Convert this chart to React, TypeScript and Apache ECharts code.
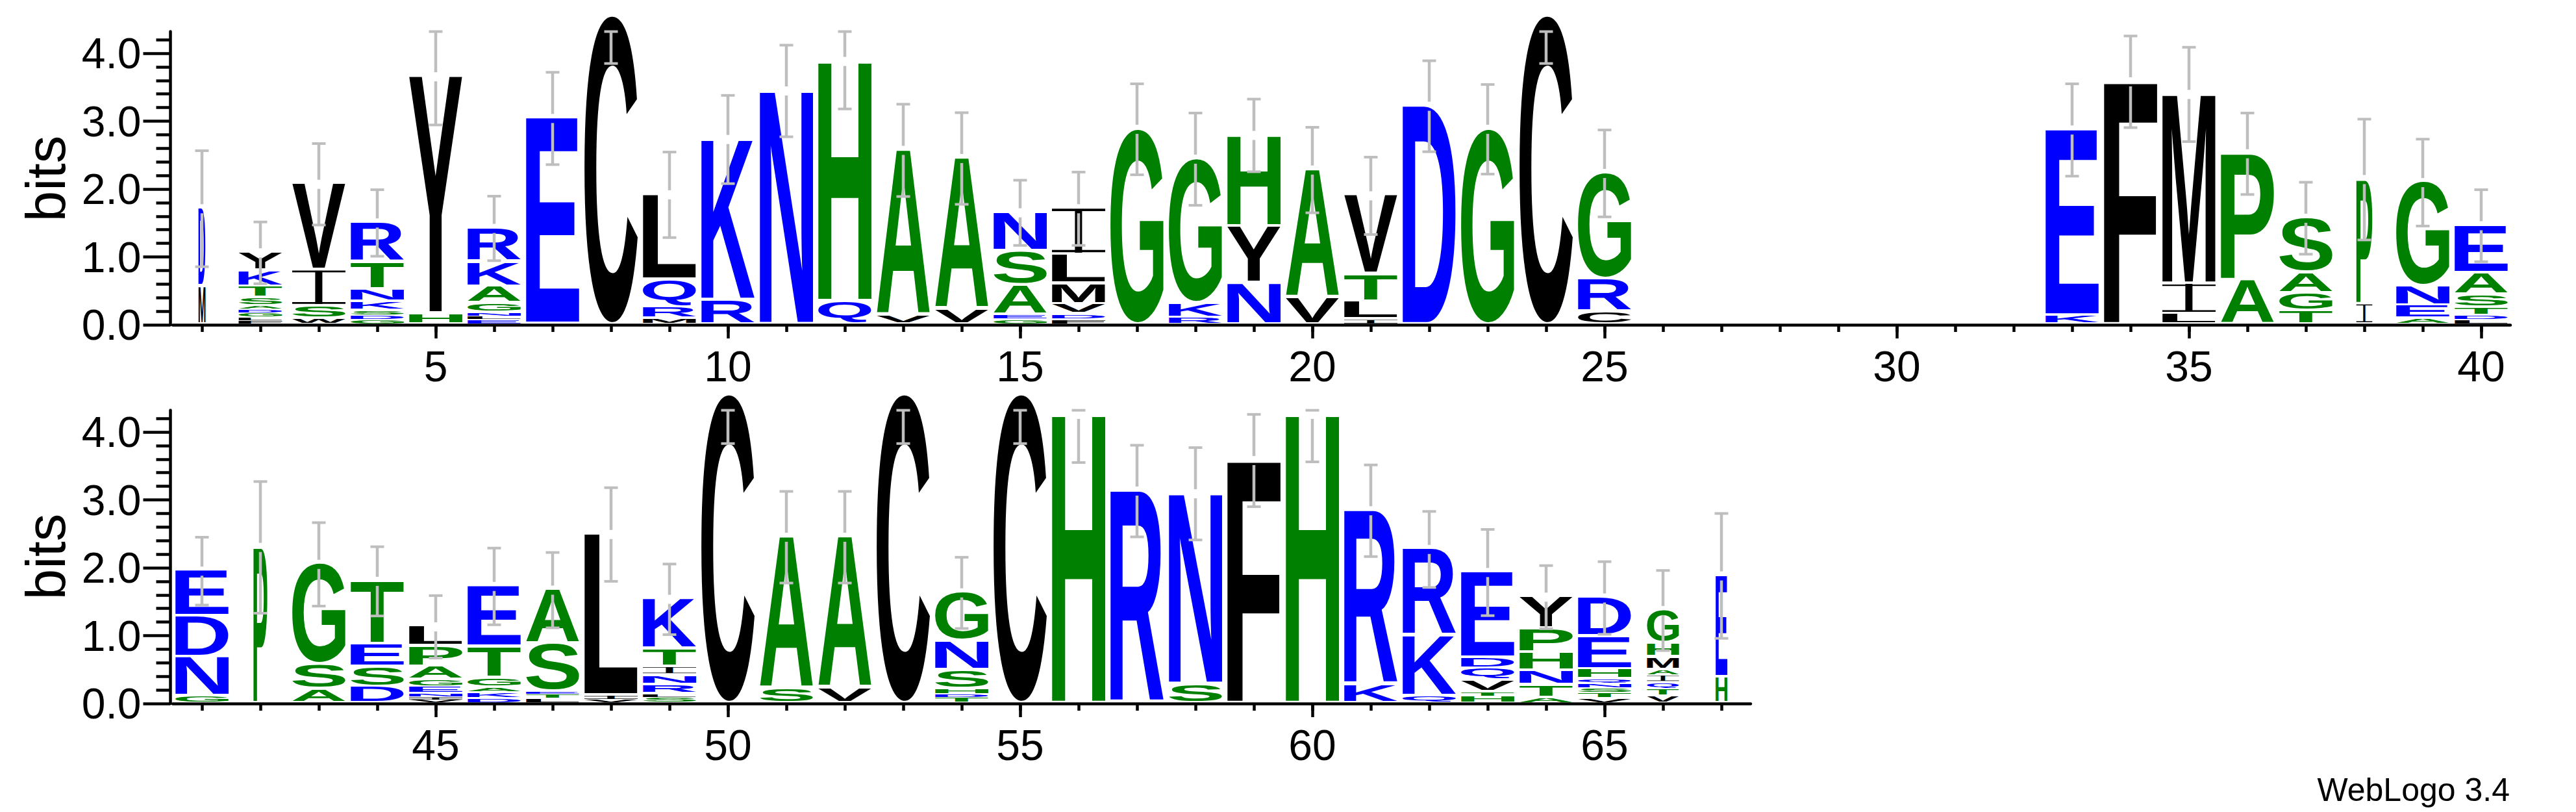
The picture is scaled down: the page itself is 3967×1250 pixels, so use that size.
import React, { useEffect, useRef } from "react";
import * as echarts from "echarts";

// ---------- data ----------
const POSITIONS: number[] = Array.from({ length: 67 }, (_, i) => i + 1);

// letters of each stack, bottom -> top
const STACK_LETTERS: string[] = [
  "MD", "FLGDASTKY", "WSIV", "GDSKNTR", "HY", "ELNGAKR", "E", "C", "MRQL", "RK",
  "N", "QH", "VA", "VA", "GEASN", "FDVMLI", "G", "RKG", "NYH", "VA",
  "ILTV", "D", "G", "C", "CRG", "", "", "", "", "",
  "", "", "KE", "F", "LIM", "AP", "TGAS", "IP", "AENG", "LDTSAE",
  "GNDE", "P", "ASG", "DSET", "VINEGAPL", "DKAGTE", "LTESA", "VIL", "SLRNITK", "C",
  "SA", "VA", "C", "TDHSNG", "C", "H", "R", "SN", "F", "H",
  "KR", "QKR", "HTVQDE", "ATNHPY", "VTSNQHED", "VTQIAMHG", "HE",
];

// bits of each letter, bottom -> top
const STACK_BITS: number[][] = [
  [0.56, 1.15],
  [0.05, 0.05, 0.07, 0.05, 0.05, 0.12, 0.17, 0.23, 0.27],
  [0.08, 0.19, 0.53, 1.27],
  [0.07, 0.06, 0.07, 0.13, 0.19, 0.4, 0.58],
  [0.154, 3.5],
  [0.07, 0.05, 0.05, 0.14, 0.25, 0.36, 0.5],
  [3.04],
  [4.55],
  [0.085, 0.17, 0.41, 1.25],
  [0.36, 2.37],
  [3.445],
  [0.34, 3.54],
  [0.13, 2.44],
  [0.22, 2.23],
  [0.07, 0.07, 0.434, 0.506, 0.57],
  [0.075, 0.075, 0.15, 0.3, 0.43, 0.68],
  [2.88],
  [0.1, 0.21, 2.13],
  [0.61, 0.84, 1.34],
  [0.39, 1.89],
  [0.075, 0.265, 0.4, 1.16],
  [3.22],
  [2.88],
  [4.55],
  [0.19, 0.48, 1.56],
  [], [], [], [], [], [], [],
  [0.13, 2.74],
  [3.58],
  [0.154, 0.44, 2.8],
  [0.65, 1.87],
  [0.2, 0.26, 0.3, 0.81],
  [0.3, 1.84],
  [0.085, 0.19, 0.28, 1.54],
  [0.07, 0.06, 0.12, 0.19, 0.32, 0.7],
  [0.1, 0.58, 0.6, 0.67],
  [2.3],
  [0.2, 0.367, 1.483],
  [0.24, 0.295, 0.335, 0.93],
  [0.05, 0.04, 0.05, 0.1, 0.1, 0.2, 0.3, 0.29],
  [0.07, 0.09, 0.07, 0.14, 0.46, 0.895],
  [0.07, 0.06, 0.04, 0.7, 0.8],
  [0.05, 0.06, 2.38],
  [0.08, 0.05, 0.14, 0.14, 0.125, 0.265, 0.735],
  [4.55],
  [0.21, 2.24],
  [0.22, 2.23],
  [4.55],
  [0.08, 0.05, 0.08, 0.28, 0.42, 0.72],
  [4.55],
  [4.26],
  [3.13],
  [0.28, 2.81],
  [3.58],
  [4.26],
  [0.27, 2.57],
  [0.1, 0.89, 1.28],
  [0.095, 0.065, 0.17, 0.18, 0.16, 1.26],
  [0.077, 0.19, 0.21, 0.27, 0.35, 0.47],
  [0.07, 0.08, 0.07, 0.07, 0.06, 0.15, 0.48, 0.575],
  [0.1, 0.11, 0.09, 0.11, 0.08, 0.19, 0.2, 0.49],
  [0.38, 1.5],
];

// half-height of the error bar (bits)
const ERROR_BITS: number[] = [
  0.855, 0.455, 0.6, 0.49, 0.71, 0.475, 0.68, 0.7, 0.63, 0.65,
  0.675, 0.7, 0.68, 0.675, 0.48, 0.54, 0.67, 0.68, 0.535, 0.63,
  0.57, 0.67, 0.66, 0.7, 0.64, 0, 0, 0, 0, 0,
  0, 0, 0.68, 0.675, 0.695, 0.6, 0.53, 0.89, 0.64, 0.53,
  0.5, 0.97, 0.615, 0.51, 0.46, 0.565, 0.555, 0.69, 0.52, 0.72,
  0.675, 0.675, 0.72, 0.525, 0.72, 0.71, 0.675, 0.68, 0.68, 0.7,
  0.675, 0.56, 0.635, 0.465, 0.535, 0.59, 0.92,
];

// relative stack width (occupancy)
const STACK_WIDTH: number[] = [
  0.13, 0.82, 1, 1, 1, 1, 1, 1, 1, 1,
  1, 1, 1, 1, 1, 1, 1, 1, 1, 1,
  1, 1, 1, 1, 1, 0, 0, 0, 0, 0,
  0, 0, 1, 1, 1, 1, 1, 0.3, 1, 1,
  1, 0.26, 1, 1, 1, 1, 1, 1, 1, 1,
  1, 1, 1, 1, 1, 1, 1, 1, 1, 1,
  1, 1, 1, 1, 1, 0.6, 0.22,
];

const TOP_RANGE: [number, number] = [1, 40];
const BOTTOM_RANGE: [number, number] = [41, 67];
const TOP_MAJOR_TICKS = [5, 10, 15, 20, 25, 30, 35, 40];
const BOTTOM_MAJOR_TICKS = [45, 50, 55, 60, 65];
const Y_MAJOR_TICKS = [0, 1, 2, 3, 4];
const Y_MINOR_TICKS = Array.from({ length: 22 }, (_, i) => Math.round(i * 2) / 10).filter(
  (v) => Math.abs(v - Math.round(v)) > 1e-6
);
const Y_MAX = 4.32;

// ---------- glyph styling ----------
const BLUE = "#0000ff";
const GREEN = "#008000";
const BLACK = "#000000";
const LETTER_COLOR: Record<string, string> = {
  D: BLUE, E: BLUE, K: BLUE, N: BLUE, Q: BLUE, R: BLUE,
  A: GREEN, G: GREEN, H: GREEN, P: GREEN, S: GREEN, T: GREEN,
  C: BLACK, F: BLACK, I: BLACK, L: BLACK, M: BLACK, V: BLACK, W: BLACK, Y: BLACK,
};
const FONT = "Liberation Sans";
const GF = 200; // glyph base font size

// fallback ink boxes (per 1000 em): xMin, yMin, xMax, yMax
const FALLBACK_BOX: Record<string, [number, number, number, number]> = {
  A: [20, 0, 702, 688], C: [44, -14, 684, 702], D: [76, 0, 685, 688], E: [76, 0, 621, 688],
  F: [76, 0, 587, 688], G: [44, -14, 713, 702], H: [71, 0, 651, 688], I: [64, 0, 214, 688],
  K: [87, 0, 722, 688], L: [76, 0, 583, 688], M: [69, 0, 765, 688], N: [69, 0, 654, 688],
  P: [76, 0, 627, 688], Q: [44, -55, 737, 702], R: [76, 0, 677, 688], S: [39, -14, 629, 702],
  T: [14, 0, 598, 688], V: [24, 0, 653, 688], W: [24, 0, 919, 688], Y: [15, 0, 653, 688],
};

type Ink = { x0: number; x1: number; a: number; d: number };
type Metrics = { ink: Record<string, Ink>; central: number };

function measureGlyphs(): Metrics {
  const ink: Record<string, Ink> = {};
  let central = 0.3467 * GF;
  Object.keys(FALLBACK_BOX).forEach((ch) => {
    const b = FALLBACK_BOX[ch];
    ink[ch] = { x0: (b[0] / 1000) * GF, x1: (b[2] / 1000) * GF, a: (b[3] / 1000) * GF, d: (-b[1] / 1000) * GF };
  });
  try {
    const cv = document.createElement("canvas");
    const ctx = cv.getContext("2d");
    if (ctx) {
      ctx.font = `bold ${GF}px "${FONT}"`;
      ctx.textAlign = "left";
      ctx.textBaseline = "alphabetic";
      Object.keys(FALLBACK_BOX).forEach((ch) => {
        const m = ctx.measureText(ch);
        if (typeof m.actualBoundingBoxAscent === "number" && m.actualBoundingBoxAscent > 0) {
          ink[ch] = {
            x0: -m.actualBoundingBoxLeft,
            x1: m.actualBoundingBoxRight,
            a: m.actualBoundingBoxAscent,
            d: m.actualBoundingBoxDescent,
          };
        }
      });
      const mh: any = ctx.measureText("H");
      if (typeof mh.fontBoundingBoxAscent === "number" && mh.fontBoundingBoxAscent > 0) {
        central = (mh.fontBoundingBoxAscent - mh.fontBoundingBoxDescent) / 2;
      }
    }
  } catch (e) {
    /* keep fallback */
  }
  return { ink, central };
}

type Glyph = { pos: number; y0: number; y1: number; ch: string; wf: number };
type ErrBar = { pos: number; c: number; e: number };

function buildGlyphs(range: [number, number]): Glyph[] {
  const out: Glyph[] = [];
  POSITIONS.forEach((p, i) => {
    if (p < range[0] || p > range[1]) return;
    let acc = 0;
    const letters = STACK_LETTERS[i];
    STACK_BITS[i].forEach((b, k) => {
      out.push({ pos: p, y0: acc, y1: acc + b, ch: letters[k], wf: STACK_WIDTH[i] });
      acc += b;
    });
  });
  return out;
}
function buildErrors(range: [number, number]): ErrBar[] {
  const out: ErrBar[] = [];
  POSITIONS.forEach((p, i) => {
    if (p < range[0] || p > range[1]) return;
    if (!STACK_BITS[i].length) return;
    const c = STACK_BITS[i].reduce((a, b) => a + b, 0);
    out.push({ pos: p, c, e: ERROR_BITS[i] });
  });
  return out;
}

function glyphText(ch: string, m: Metrics, left: number, top: number, w: number, h: number, fill: string) {
  const ink = m.ink[ch];
  const sx = w / (ink.x1 - ink.x0);
  const sy = h / (ink.a + ink.d);
  const localTop = m.central - ink.a;
  return {
    type: "text",
    x: left - ink.x0 * sx,
    y: top - localTop * sy,
    scaleX: sx,
    scaleY: sy,
    style: {
      text: ch,
      fontSize: GF,
      fontFamily: FONT,
      fontWeight: "bold",
      lineHeight: GF * 0.75,
      fill,
      align: "left",
      verticalAlign: "middle",
    },
  };
}

function glyphSeries(glyphs: Glyph[], axisIndex: number, m: Metrics) {
  return {
    type: "custom",
    xAxisIndex: axisIndex,
    yAxisIndex: axisIndex,
    clip: false,
    silent: true,
    data: glyphs.map((g) => [g.pos, g.y0, g.y1]),
    renderItem: (params: any, api: any) => {
      const g = glyphs[params.dataIndex];
      if (!m.ink[g.ch]) return null;
      const top = api.coord([g.pos, g.y1]);
      const bot = api.coord([g.pos, g.y0]);
      const band = api.size([1, 0])[0];
      const w = band * 0.911 * g.wf;
      let h = bot[1] - top[1];
      h -= Math.min(4, h * 0.3);
      if (h <= 0.15 || w <= 0) return null;
      const fill = LETTER_COLOR[g.ch] || BLACK;
      const left = top[0] - w / 2;
      if (g.ch === "I") {
        // serif capital I: thin stem plus top and bottom bars
        const stemW = Math.max(w * 0.14, 0.8);
        const t = Math.max(h * 0.055, 0.7);
        return {
          type: "group",
          children: [
            glyphText("I", m, top[0] - stemW / 2, top[1], stemW, h, fill),
            { type: "rect", shape: { x: left, y: top[1], width: w, height: t }, style: { fill } },
            { type: "rect", shape: { x: left, y: top[1] + h - t, width: w, height: t }, style: { fill } },
          ],
        };
      }
      return glyphText(g.ch, m, left, top[1], w, h, fill);
    },
  };
}

function errorSeries(errs: ErrBar[], axisIndex: number) {
  const stroke = "#bebebe";
  return {
    type: "custom",
    xAxisIndex: axisIndex,
    yAxisIndex: axisIndex,
    clip: false,
    silent: true,
    z: 5,
    data: errs.map((e) => [e.pos, e.c, e.e]),
    renderItem: (params: any, api: any) => {
      const eb = errs[params.dataIndex];
      const hi = Math.min(eb.c + eb.e, Y_MAX);
      const lo = Math.max(eb.c - eb.e, 0);
      const x = api.coord([eb.pos, 0])[0];
      const pTop = api.coord([eb.pos, hi])[1];
      const pBot = api.coord([eb.pos, lo])[1];
      const pC = api.coord([eb.pos, eb.c])[1];
      const gap = 7;
      const children: any[] = [];
      const seg = (a: number, b: number) => {
        if (b - a > 0.5)
          children.push({ type: "line", shape: { x1: x, y1: a, x2: x, y2: b }, style: { stroke, lineWidth: 4.5 } });
      };
      seg(pTop, Math.min(pC - gap, pBot));
      seg(Math.max(pC + gap, pTop), pBot);
      const cap = 10.5;
      children.push({ type: "line", shape: { x1: x - cap, y1: pTop, x2: x + cap, y2: pTop }, style: { stroke, lineWidth: 4 } });
      children.push({ type: "line", shape: { x1: x - cap, y1: pBot, x2: x + cap, y2: pBot }, style: { stroke, lineWidth: 4 } });
      return { type: "group", children };
    },
  };
}

const AXIS_W = 4.5;
const LABEL_FONT = { fontSize: 66, fontFamily: FONT, color: "#000", lineHeight: 66 };

function xAxes(gridIndex: number, min: number, max: number, major: number[]) {
  const all: number[] = [];
  for (let v = Math.ceil(min); v <= Math.floor(max); v++) all.push(v);
  return [
    {
      type: "value", gridIndex, min, max, position: "bottom", offset: 0,
      axisLine: { show: true, onZero: false, lineStyle: { color: "#000", width: AXIS_W } },
      axisTick: { show: true, customValues: all, length: 11, lineStyle: { color: "#000", width: AXIS_W } },
      axisLabel: { show: false },
      splitLine: { show: false },
    },
    {
      type: "value", gridIndex, min, max, position: "bottom", offset: 0,
      axisLine: { show: false, onZero: false },
      axisTick: { show: true, customValues: major, length: 21, lineStyle: { color: "#000", width: AXIS_W } },
      axisLabel: { show: true, customValues: major, margin: 31, ...LABEL_FONT },
      splitLine: { show: false },
    },
  ];
}
function yAxes(gridIndex: number) {
  return [
    {
      type: "value", gridIndex, min: 0, max: Y_MAX, position: "left", offset: 3.5,
      axisLine: { show: true, onZero: false, lineStyle: { color: "#000", width: AXIS_W } },
      axisTick: { show: true, customValues: Y_MINOR_TICKS, length: 22, lineStyle: { color: "#000", width: AXIS_W } },
      axisLabel: { show: false },
      splitLine: { show: false },
    },
    {
      type: "value", gridIndex, min: 0, max: Y_MAX, position: "left", offset: 3.5,
      axisLine: { show: false, onZero: false },
      axisTick: { show: true, customValues: Y_MAJOR_TICKS, length: 42, lineStyle: { color: "#000", width: AXIS_W } },
      axisLabel: {
        show: true, customValues: Y_MAJOR_TICKS, margin: 45,
        formatter: (v: number) => v.toFixed(1), ...LABEL_FONT,
      },
      splitLine: { show: false },
    },
  ];
}

export default function App() {
  const ref = useRef<HTMLDivElement>(null);
  useEffect(() => {
    if (!ref.current) return;
    const metrics = measureGlyphs();
    const chart = echarts.init(ref.current, null, { renderer: "svg" });
    const topGlyphs = buildGlyphs(TOP_RANGE);
    const botGlyphs = buildGlyphs(BOTTOM_RANGE);
    const topErr = buildErrors(TOP_RANGE);
    const botErr = buildErrors(BOTTOM_RANGE);
    const xTop = xAxes(0, TOP_RANGE[0] - 0.5, TOP_RANGE[1] + 0.5, TOP_MAJOR_TICKS);
    const xBot = xAxes(1, BOTTOM_RANGE[0] - 0.5, BOTTOM_RANGE[1] + 0.5, BOTTOM_MAJOR_TICKS);
    const option: any = {
      animation: false,
      backgroundColor: "#ffffff",
      grid: [
        { left: 266, top: 48.6, width: 3600, height: 451.4, containLabel: false, outerBoundsMode: "none" },
        { left: 266, top: 631.6, width: 2430, height: 451.4, containLabel: false, outerBoundsMode: "none" },
      ],
      xAxis: [...xTop, ...xBot],
      yAxis: [...yAxes(0), ...yAxes(1)],
      graphic: [
        {
          type: "text", x: 70, y: 275, rotation: Math.PI / 2,
          style: { text: "bits", fontSize: 85, fontFamily: FONT, fill: "#000", align: "center", verticalAlign: "middle" },
        },
        {
          type: "text", x: 70, y: 857, rotation: Math.PI / 2,
          style: { text: "bits", fontSize: 85, fontFamily: FONT, fill: "#000", align: "center", verticalAlign: "middle" },
        },
        {
          type: "text", x: 3865, y: 1215.7,
          style: { text: "WebLogo 3.4", fontSize: 50, fontFamily: FONT, fill: "#000", align: "right", verticalAlign: "middle" },
        },
      ],
      series: [
        glyphSeries(topGlyphs, 0, metrics),
        errorSeries(topErr, 0),
        glyphSeries(botGlyphs, 2, metrics),
        errorSeries(botErr, 2),
      ],
    };
    chart.setOption(option);
    return () => chart.dispose();
  }, []);
  return (
    <div
      ref={ref}
      style={{ position: "absolute", left: 0, top: 0, width: 3967, height: 1250, background: "#fff" }}
    />
  );
}
